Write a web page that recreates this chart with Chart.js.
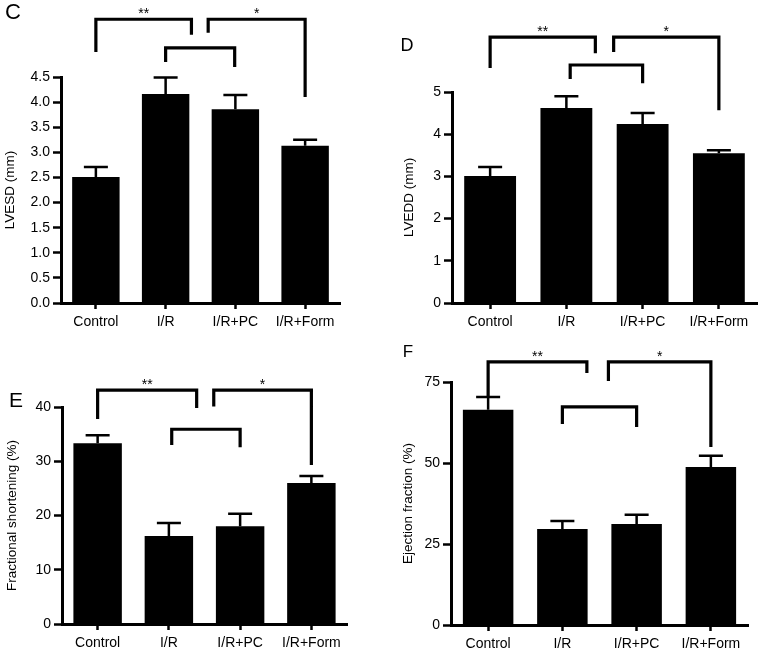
<!DOCTYPE html>
<html>
<head>
<meta charset="utf-8">
<script src="https://cdn.jsdelivr.net/npm/chart.js@4.4.1/dist/chart.umd.min.js"></script>
<style>
  body { margin: 0; background: #fff; width: 765px; height: 655px; position: relative; overflow: hidden; }
  canvas { position: absolute; }
</style>
</head>
<body>
<canvas id="cC" width="380" height="330" style="left:0;top:0"></canvas>
<canvas id="cD" width="385" height="330" style="left:380px;top:0"></canvas>
<canvas id="cE" width="380" height="325" style="left:0;top:330px"></canvas>
<canvas id="cF" width="385" height="325" style="left:380px;top:330px"></canvas>
<script>
const FONT = "'Liberation Sans', Arial, Helvetica, sans-serif";

// Groups
const groups = ["Control", "I/R", "I/R+PC", "I/R+Form"];

// C - LVESD
const lvesd = [2.51, 4.16, 3.86, 3.13];
const lvesdErr = [0.20, 0.33, 0.28, 0.12];
const lvesdTicks = [0, 0.5, 1, 1.5, 2, 2.5, 3, 3.5, 4, 4.5];

// D - LVEDD
const lvedd = [3.01, 4.62, 4.24, 3.55];
const lveddErr = [0.21, 0.28, 0.26, 0.07];
const lveddTicks = [0, 1, 2, 3, 4, 5];

// E - fractional shortening
const fs = [33.3, 16.2, 18.0, 26.0];
const fsErr = [1.5, 2.4, 2.3, 1.3];
const fsTicks = [0, 10, 20, 30, 40];

// F - ejection fraction
const ef = [66.4, 29.6, 31.2, 48.8];
const efErr = [4.0, 2.5, 2.8, 3.4];
const efTicks = [0, 25, 50, 75];

// significance brackets (x in category units, y in data units)
const lvesdSig = [
  { from: 0, to: 1.37, top: 5.65, legs: [5.0, 5.34], label: "**" },
  { from: 1.61, to: 3, top: 5.65, legs: [5.38, 4.10], label: "*" },
  { from: 1, to: 1.99, top: 5.08, legs: [4.80, 4.70], label: "" }
];
const lveddSig = [
  { from: 0, to: 1.38, top: 6.30, legs: [5.57, 5.92], label: "**" },
  { from: 1.62, to: 3, top: 6.30, legs: [5.95, 4.57], label: "*" },
  { from: 1.05, to: 2, top: 5.64, legs: [5.31, 5.21], label: "" }
];
const fsSig = [
  { from: 0, to: 1.39, top: 43.1, legs: [37.8, 39.8], label: "**" },
  { from: 1.63, to: 3, top: 43.1, legs: [40.1, 29.3], label: "*" },
  { from: 1.04, to: 2, top: 35.9, legs: [33.0, 32.6], label: "" }
];
const efSig = [
  { from: 0, to: 1.33, top: 81.2, legs: [70.4, 77.8], label: "**" },
  { from: 1.62, to: 3, top: 81.2, legs: [75.3, 54.9], label: "*" },
  { from: 1, to: 2, top: 67.3, legs: [62.0, 61.1], label: "" }
];

const panels = [
  { id: "cC", letter: "C", lx: 13, ly: 13, lsize: 22, title: "LVESD (mm)", values: lvesd, err: lvesdErr,
    ticks: lvesdTicks, dec: 1, sig: lvesdSig, area: { l: 61, r: 340, t: 77, b: 303 }, titlePad: 2 },
  { id: "cD", letter: "D", lx: 27, ly: 46, lsize: 18, title: "LVEDD (mm)", values: lvedd, err: lveddErr,
    ticks: lveddTicks, dec: 0, sig: lveddSig, area: { l: 72, r: 377, t: 92, b: 303 }, titlePad: 21 },
  { id: "cE", letter: "E", lx: 16, ly: 71, lsize: 21, title: "Fractional shortening (%)", values: fs, err: fsErr,
    ticks: fsTicks, dec: 0, sig: fsSig, area: { l: 62, r: 347, t: 77, b: 294 }, titlePad: 4 },
  { id: "cF", letter: "F", lx: 28, ly: 22, lsize: 17, title: "Ejection fraction (%)", values: ef, err: efErr,
    ticks: efTicks, dec: 0, sig: efSig, area: { l: 71, r: 368, t: 52, b: 295 }, titlePad: 20 }
];

// error bars, brackets and panel letter
const extras = {
  id: "extras",
  afterDatasetsDraw(chart, args, opts) {
    const p = opts.panel;
    const ctx = chart.ctx;
    const x = chart.scales.x, y = chart.scales.y;
    const step = x.getPixelForValue(1) - x.getPixelForValue(0);
    const xAt = v => x.getPixelForValue(0) + v * step;

    ctx.save();
    ctx.strokeStyle = "#000";
    ctx.fillStyle = "#000";

    // error bars (upper only)
    ctx.lineWidth = 2.5;
    p.values.forEach((v, i) => {
      const cx = x.getPixelForValue(i);
      const y0 = y.getPixelForValue(v);
      const y1 = y.getPixelForValue(v + p.err[i]);
      ctx.beginPath();
      ctx.moveTo(cx, y0);
      ctx.lineTo(cx, y1);
      ctx.moveTo(cx - 12, y1);
      ctx.lineTo(cx + 12, y1);
      ctx.stroke();
    });

    // brackets
    ctx.lineWidth = 3.2;
    ctx.lineJoin = "miter";
    ctx.font = "14px " + FONT;
    ctx.textAlign = "center";
    ctx.textBaseline = "alphabetic";
    p.sig.forEach(s => {
      const x1 = xAt(s.from), x2 = xAt(s.to);
      const yt = y.getPixelForValue(s.top);
      ctx.beginPath();
      ctx.moveTo(x1, y.getPixelForValue(s.legs[0]));
      ctx.lineTo(x1, yt);
      ctx.lineTo(x2, yt);
      ctx.lineTo(x2, y.getPixelForValue(s.legs[1]));
      ctx.stroke();
      if (s.label) ctx.fillText(s.label, (x1 + x2) / 2, yt - 1);
    });

    // panel letter
    ctx.font = p.lsize + "px " + FONT;
    ctx.textBaseline = "middle";
    ctx.fillText(p.letter, p.lx, p.ly);
    ctx.restore();
  }
};

panels.forEach(p => {
  const cv = document.getElementById(p.id);
  const W = cv.width, H = cv.height;
  new Chart(cv, {
    type: "bar",
    data: {
      labels: groups,
      datasets: [{
        data: p.values,
        backgroundColor: "#000",
        borderWidth: 0,
        barPercentage: 0.68,
        categoryPercentage: 1
      }]
    },
    options: {
      responsive: false,
      devicePixelRatio: 1,
      animation: false,
      layout: { padding: { left: 0, top: p.area.t, right: W - p.area.r, bottom: 0 } },
      plugins: {
        legend: { display: false },
        tooltip: { enabled: false },
        extras: { panel: p }
      },
      scales: {
        x: {
          afterFit: s => { s.height = H - p.area.b; },
          grid: { offset: false, drawOnChartArea: false, drawTicks: true, tickLength: 6, tickWidth: 2.5, tickColor: "#000" },
          border: { display: true, width: 3, color: "#000" },
          ticks: { color: "#000", padding: 5, maxRotation: 0, autoSkip: false, font: { family: FONT, size: 14 } }
        },
        y: {
          min: p.ticks[0],
          max: p.ticks[p.ticks.length - 1],
          afterFit: s => { s.width = p.area.l; },
          afterBuildTicks: s => { s.ticks = p.ticks.map(v => ({ value: v })); },
          grid: { drawOnChartArea: false, drawTicks: true, tickLength: 8, tickWidth: 2.5, tickColor: "#000" },
          border: { display: true, width: 3, color: "#000" },
          ticks: {
            color: "#000", padding: 3, font: { family: FONT, size: 14 },
            callback: v => Number(v).toFixed(p.dec)
          },
          title: {
            display: true, text: p.title, color: "#000",
            padding: { top: p.titlePad, bottom: 0 },
            font: { family: FONT, size: 13.5 }
          }
        }
      }
    },
    plugins: [extras]
  });
});
</script>
</body>
</html>
